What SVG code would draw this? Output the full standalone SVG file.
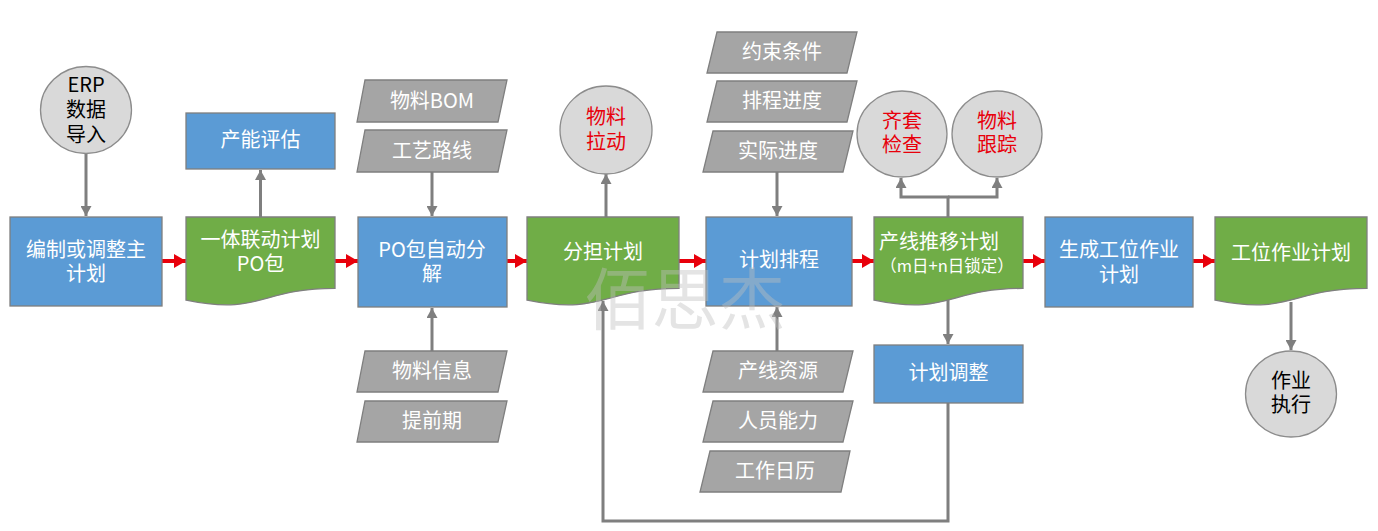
<svg xmlns="http://www.w3.org/2000/svg" width="1378" height="531" viewBox="0 0 1378 531">
<defs>
<marker id="ga" markerUnits="userSpaceOnUse" markerWidth="11" markerHeight="11" refX="10" refY="5.5" orient="auto"><path d="M0,0 L10,5.5 L0,11 z" fill="#7F7F7F"/></marker>
<marker id="ra" markerUnits="userSpaceOnUse" markerWidth="13" markerHeight="14" refX="12" refY="7" orient="auto"><path d="M0,0 L12,7 L0,14 z" fill="#E8000B"/></marker>
</defs>
<style>
.blue{fill:#5B9BD5;stroke:#7F7F7F;stroke-width:1.3}
.green{fill:#70AD47;stroke:#7F7F7F;stroke-width:1.3}
.para{fill:#A5A5A5;stroke:#7F7F7F;stroke-width:1.3}
.circ{fill:#D9D9D9;stroke:#8C8C8C;stroke-width:1.3}
text{font-family:"Microsoft YaHei","Noto Sans CJK SC",sans-serif;font-size:20px;text-anchor:middle}
.w{fill:#FFFFFF}
.k{fill:#000000}
.r{fill:#E8000B}
.gl{fill:none;stroke:#7F7F7F;stroke-width:3;marker-end:url(#ga)}
.rl{fill:none;stroke:#E8000B;stroke-width:4;marker-end:url(#ra)}
</style>
<g id="connectors">
<path class="gl" d="M86,154 V216"/>
<path class="gl" d="M260.5,217 V170"/>
<path class="gl" d="M432,172 V216"/>
<path class="gl" d="M432,351 V308"/>
<path class="gl" d="M606,217 V174"/>
<path class="gl" d="M777,172 V216"/>
<path class="gl" d="M777,351 V307"/>
<path class="gl" d="M948,217 V197 H901 V178"/>
<path class="gl" d="M948,197 H997 V178"/>
<path class="gl" d="M948,300 V344"/>
<path class="gl" d="M948,403 V521 H603 V301"/>
<path class="gl" d="M1291,302 V350"/>
<path class="rl" d="M162,261 H186"/>
<path class="rl" d="M335,261 H358"/>
<path class="rl" d="M507,261 H527"/>
<path class="rl" d="M679,261 H706"/>
<path class="rl" d="M852,261 H874"/>
<path class="rl" d="M1023,261 H1045"/>
<path class="rl" d="M1193,261 H1215"/>
</g>
<g id="erp"><ellipse class="circ" cx="86" cy="110" rx="45.5" ry="43.5"/><text class="k" x="86" y="92">ERP</text><text class="k" x="86" y="117">数据</text><text class="k" x="86" y="142">导入</text></g>
<g id="master"><rect class="blue" x="10" y="217" width="152" height="89"/><text class="w" x="86" y="257">编制或调整主</text><text class="w" x="86" y="281">计划</text></g>
<g id="capacity"><rect class="blue" x="186" y="113" width="149" height="56"/><text class="w" x="260.5" y="147">产能评估</text></g>
<g id="po"><path class="green" d="M186,217 H335 V288.4 C260.5,288.4 260.5,315.6 186,300.1 Z"/><text class="w" x="260.5" y="247">一体联动计划</text><text class="w" x="260.5" y="271">PO包</text></g>
<g id="bom"><polygon class="para" points="365,80 507,80 498,122 357,122"/><text class="w" x="432" y="108">物料BOM</text></g>
<g id="route"><polygon class="para" points="365,130 507,130 498,172 357,172"/><text class="w" x="432" y="158">工艺路线</text></g>
<g id="split"><rect class="blue" x="358" y="217" width="149" height="90"/><text class="w" x="432" y="257">PO包自动分</text><text class="w" x="432" y="281">解</text></g>
<g id="matinfo"><polygon class="para" points="365,351 507,351 498,392 357,392"/><text class="w" x="432" y="378">物料信息</text></g>
<g id="lead"><polygon class="para" points="365,401 507,401 498,442 357,442"/><text class="w" x="432" y="428">提前期</text></g>
<g id="pull"><ellipse class="circ" cx="606" cy="130" rx="46" ry="44"/><text class="r" x="606" y="124">物料</text><text class="r" x="606" y="149">拉动</text></g>
<g id="share"><path class="green" d="M527,217 H679 V288.4 C603,288.4 603,315.6 527,300.1 Z"/><text class="w" x="603" y="259">分担计划</text></g>
<g id="c1"><polygon class="para" points="717,32 857,32 847,73 707,73"/><text class="w" x="782" y="59">约束条件</text></g>
<g id="c2"><polygon class="para" points="717,81 857,81 847,122 707,122"/><text class="w" x="782" y="108">排程进度</text></g>
<g id="c3"><polygon class="para" points="713,131 853,131 843,172 703,172"/><text class="w" x="778" y="158">实际进度</text></g>
<g id="sched"><rect class="blue" x="706" y="217" width="146" height="89"/><text class="w" x="779" y="267">计划排程</text></g>
<g id="c4"><polygon class="para" points="713,351 853,351 843,392 703,392"/><text class="w" x="778" y="378">产线资源</text></g>
<g id="c5"><polygon class="para" points="713,401 853,401 843,442 703,442"/><text class="w" x="778" y="428">人员能力</text></g>
<g id="c6"><polygon class="para" points="710,451 850,451 841,492 700,492"/><text class="w" x="775" y="478">工作日历</text></g>
<g id="kit"><ellipse class="circ" cx="902" cy="134" rx="45" ry="43"/><text class="r" x="902" y="128">齐套</text><text class="r" x="902" y="152">检查</text></g>
<g id="track"><ellipse class="circ" cx="997" cy="134" rx="45" ry="43"/><text class="r" x="997" y="128">物料</text><text class="r" x="997" y="152">跟踪</text></g>
<g id="line"><path class="green" d="M874,217 H1023 V288.4 C948.5,288.4 948.5,315.6 874,300.1 Z"/><text class="w" x="939" y="249">产线推移计划</text><text class="w" x="947" y="272" style="font-size:16.5px">（m日+n日锁定）</text></g>
<g id="adjust"><rect class="blue" x="874" y="345" width="149" height="58"/><text class="w" x="948.5" y="380">计划调整</text></g>
<g id="gen"><rect class="blue" x="1045" y="217" width="148" height="90"/><text class="w" x="1119" y="257">生成工位作业</text><text class="w" x="1119" y="282">计划</text></g>
<g id="station"><path class="green" d="M1215,217 H1367 V288.4 C1291,288.4 1291,315.6 1215,300.1 Z"/><text class="w" x="1291" y="260">工位作业计划</text></g>
<g id="exec"><ellipse class="circ" cx="1291" cy="394" rx="45.5" ry="43"/><text class="k" x="1291" y="388">作业</text><text class="k" x="1291" y="412">执行</text></g>
<text x="685" y="324" style="font-size:67px;fill:#BFBFBF;fill-opacity:0.42">佰思杰</text>
</svg>
